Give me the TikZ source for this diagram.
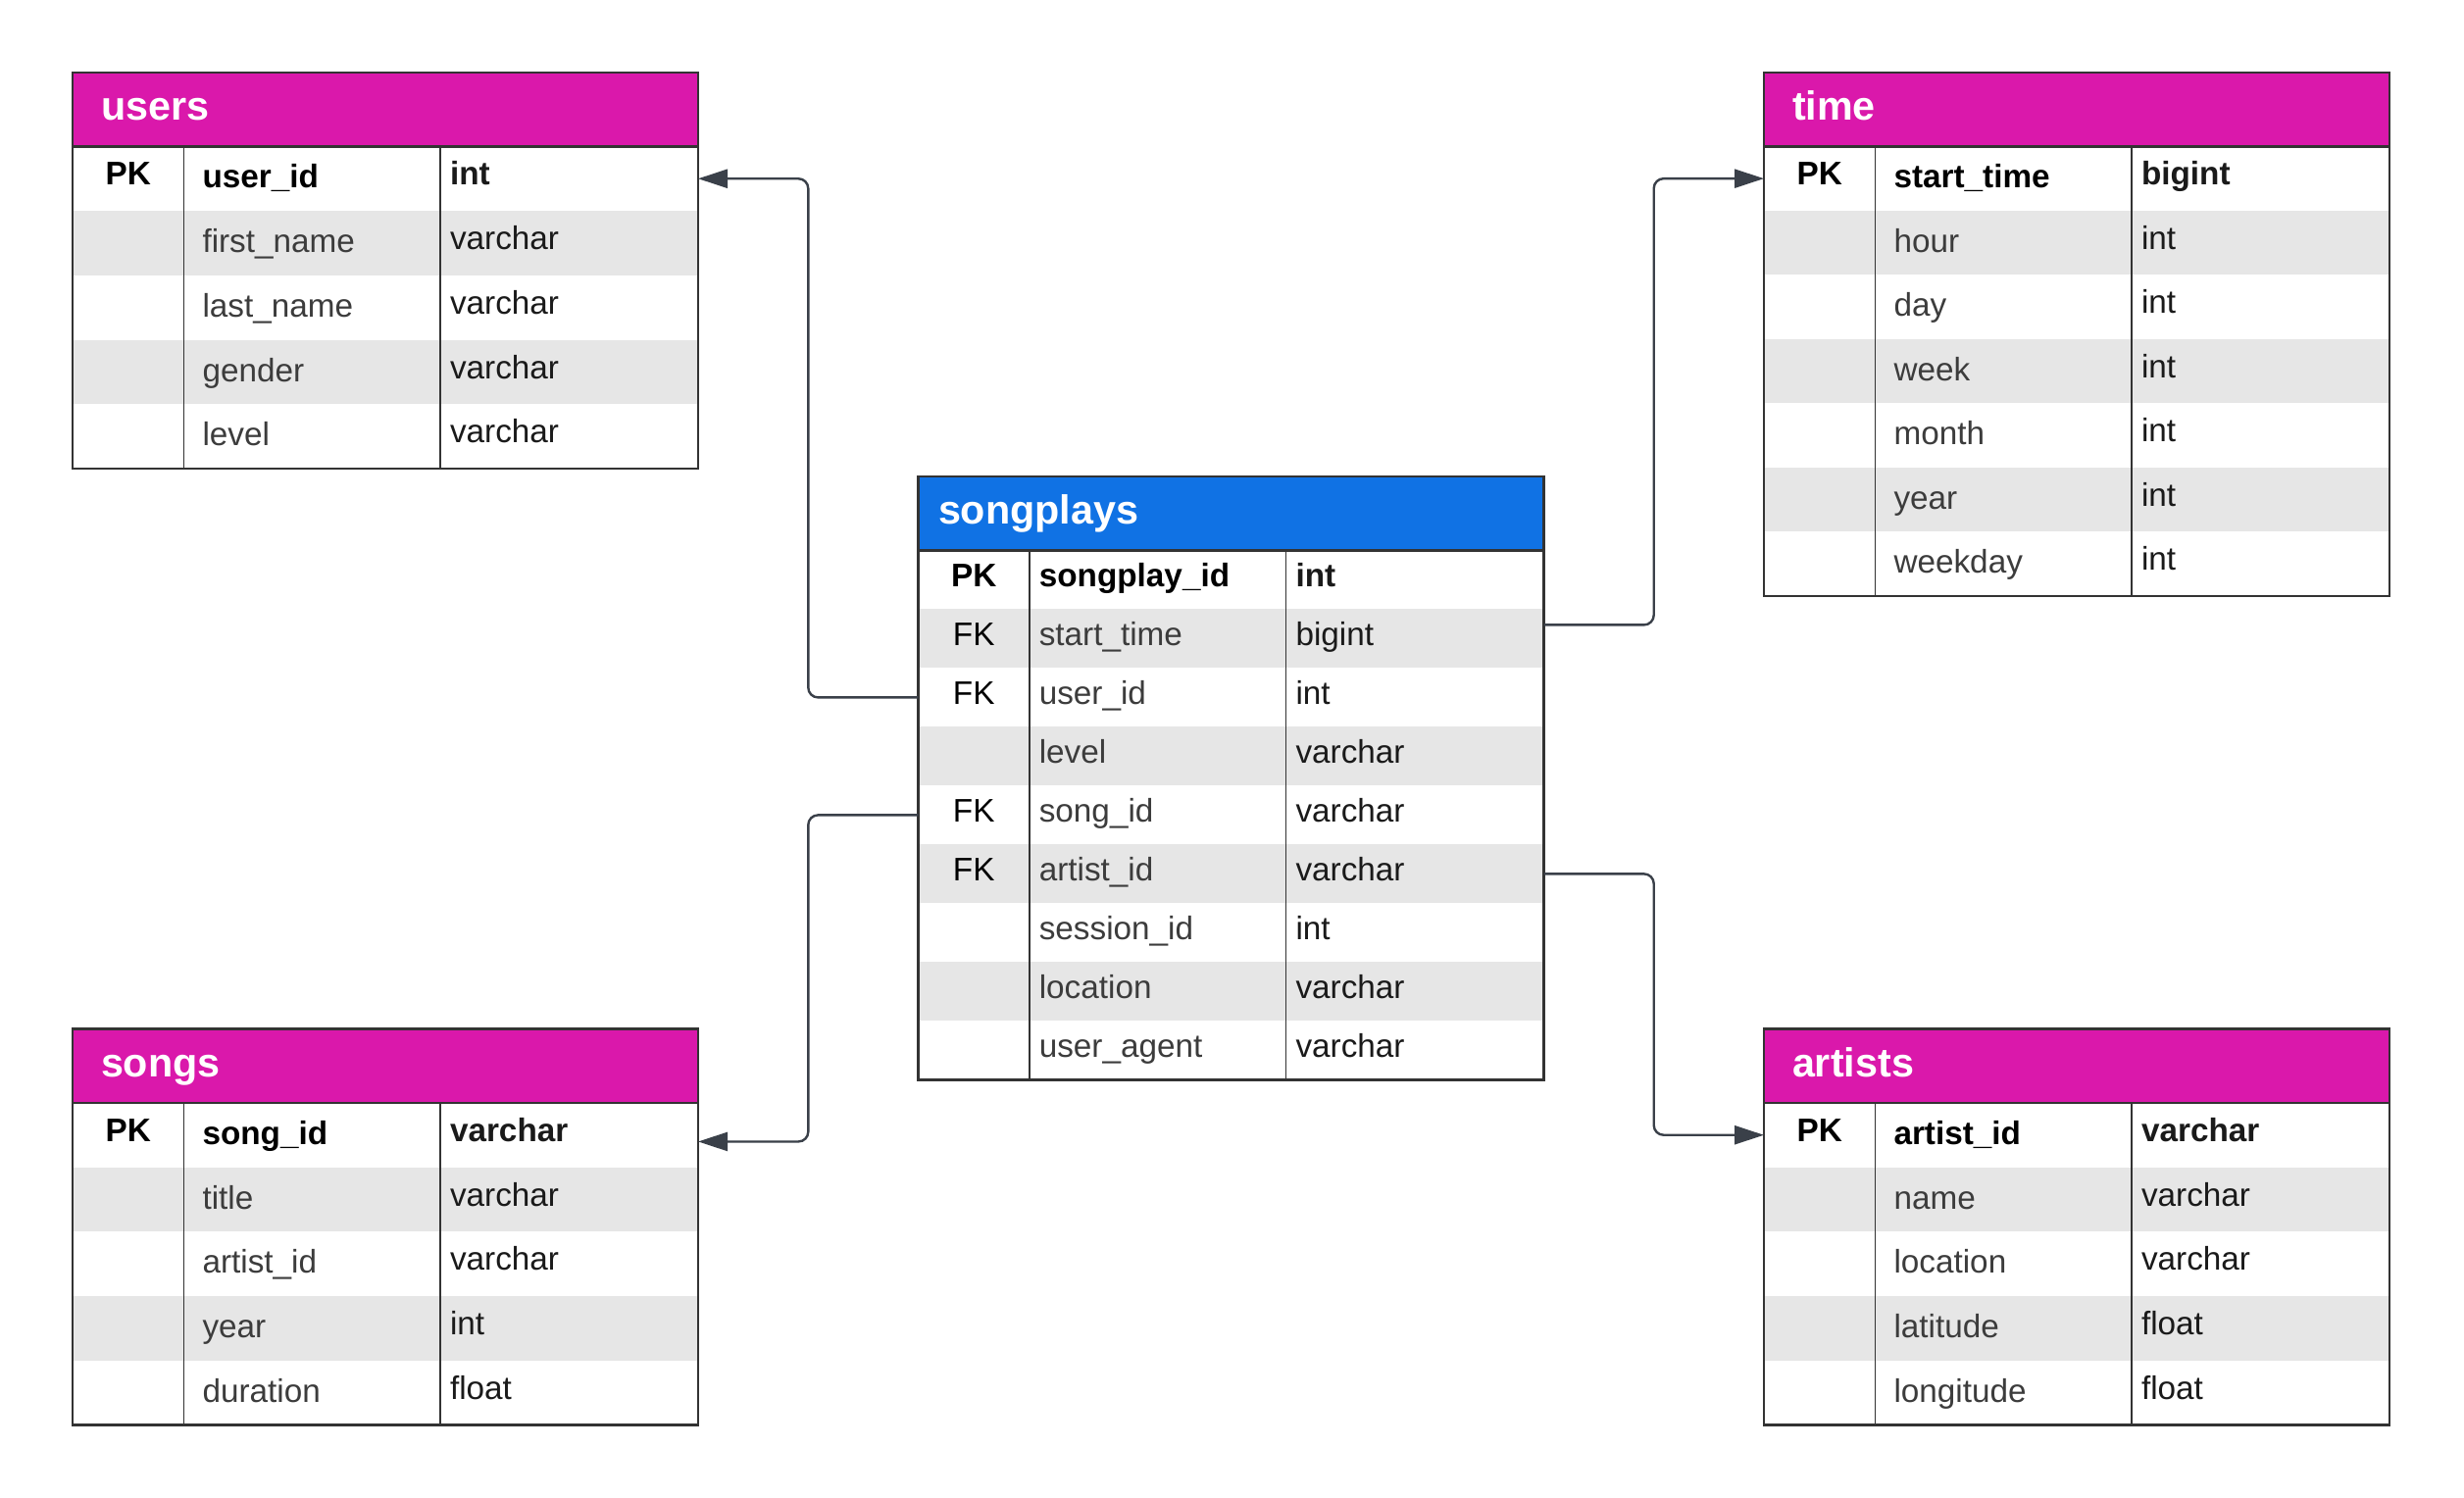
\documentclass[tikz,border=0pt]{standalone}
\usepackage{fontspec}
\setmainfont{Liberation Sans}
\usetikzlibrary{arrows.meta}
\definecolor{hdrmag}{HTML}{DA18AB}
\definecolor{hdrblue}{HTML}{1072E4}
\definecolor{rowgrey}{HTML}{E6E6E6}
\definecolor{bordergrey}{HTML}{333333}
\definecolor{conngrey}{HTML}{3A4049}
\definecolor{namegrey}{HTML}{3C3C3C}
\definecolor{typeblack}{HTML}{1A1A1A}
\newcommand\rowfont{\fontsize{33.3}{40}\selectfont}
\newcommand\headfont{\fontsize{41.3}{50}\selectfont\bfseries}
\newcommand\tabw{638}
\newcommand\tabhh{75.4}
\tikzset{
  rowbox/.style={draw=none, inner sep=0pt, outer sep=0pt, minimum width=638pt},
  headbox/.style={draw=none, inner sep=0pt, outer sep=0pt, minimum width=638pt, minimum height=75.4pt},
  cell/.style={inner sep=0pt, outer sep=0pt},
  divline/.style={draw=bordergrey, line width=1.6pt},
  tabline/.style={draw=bordergrey, line width=2.6pt},
  conn/.style={draw=conngrey, line width=2.4pt, rounded corners=10pt,
    -{Triangle[length=30pt, width=19pt]}},
}
% #1 name, #2 x0, #3 ytop, #4 title, #5 colour, #6 rows, #7 number of rows
\newcommand{\ertable}[7]{%
  \foreach \k/\n/\t [count=\i] in {#6} {%
    \pgfmathsetmacro\ya{#3+\tabhh+(\i-1)*\tabrowh}%
    \ifodd\i\relax \def\rowfill{white}\else \def\rowfill{rowgrey}\fi
    \node[rowbox, fill=\rowfill, minimum height=\tabrowh pt, anchor=north west] (#1-r\i) at (#2,\ya) {};
    \draw[divline] ({#2+113.5},\ya) -- ++(0,\tabrowh);
    \draw[divline] ({#2+375},\ya) -- ++(0,\tabrowh);
    \ifnum\i=1 \def\cellfont{\rowfont\bfseries}\def\namecol{black}\else \def\cellfont{\rowfont}\def\namecol{namegrey}\fi
    \node[cell, font=\cellfont, text=black, anchor=base] (#1-k\i) at ({#2+56.75},{\ya+\tabkb}) {\k};
    \node[cell, font=\cellfont, text=\namecol, anchor=base west] (#1-n\i) at ({#2+113.5+\tabnp},{\ya+\tabnb}) {\n};
    \node[cell, font=\cellfont, text=typeblack, anchor=base west] (#1-t\i) at ({#2+385},{\ya+\tabkb}) {\t};
  }
  \pgfmathsetmacro\yhb{#3+\tabhh}%
  \pgfmathsetmacro\ybot{#3+\tabhh+#7*\tabrowh}%
  \node[headbox, fill=#5, anchor=north west] (#1-head) at (#2,#3) {};
  \node[cell, font=\headfont, text=white, anchor=base west] (#1-title) at ({#2+\tabtp},{#3+48.5}) {#4};
  \draw[tabline] (#2,\yhb) -- ++(\tabw,0);
  \draw[tabline] (#2,#3) rectangle ({#2+\tabw},\ybot);
}
\begin{document}
\begin{tikzpicture}[x=1pt, y=-1pt]
\fill[white] (0,0) rectangle (2513,1528);
\useasboundingbox (0,0) rectangle (2513,1528);

% magenta tables settings
\def\tabrowh{65.7}\def\tabnp{19}\def\tabnb{42.5}\def\tabkb{39.5}\def\tabtp{29}
\ertable{users}{74}{74}{users}{hdrmag}{PK/user\_id/int, /first\_name/varchar, /last\_name/varchar, /gender/varchar, /level/varchar}{5}
\ertable{songs}{74}{1049.5}{songs}{hdrmag}{PK/song\_id/varchar, /title/varchar, /artist\_id/varchar, /year/int, /duration/float}{5}
\ertable{artists}{1799}{1049.5}{artists}{hdrmag}{PK/artist\_id/varchar, /name/varchar, /location/varchar, /latitude/float, /longitude/float}{5}
\def\tabrowh{65.5}
\ertable{time}{1799}{74}{time}{hdrmag}{PK/start\_time/bigint, /hour/int, /day/int, /week/int, /month/int, /year/int, /weekday/int}{7}

% songplays
\def\tabrowh{60}\def\tabnp{9.8}\def\tabnb{37.5}\def\tabkb{37.5}\def\tabtp{20.5}
\ertable{sp}{936.5}{486}{songplays}{hdrblue}{PK/songplay\_id/int, FK/start\_time/bigint, FK/user\_id/int, /level/varchar, FK/song\_id/varchar, FK/artist\_id/varchar, /session\_id/int, /location/varchar, /user\_agent/varchar}{9}

% connectors
\coordinate (busL) at (824.3,0);
\coordinate (busR) at (1686.7,0);
\coordinate (sp-st) at ([yshift=14pt]sp-r2.east);
\coordinate (songs-in) at ([yshift=-6.7pt]songs-r1.east);
\draw[conn] (sp-r3.west) -- (sp-r3.west -| busL) -- (users-r1.east -| busL) -- (users-r1.east);
\draw[conn] (sp-st) -- (sp-st -| busR) -- (time-r1.west -| busR) -- (time-r1.west);
\draw[conn] (sp-r5.west) -- (sp-r5.west -| busL) -- (songs-in -| busL) -- (songs-in);
\draw[conn] (sp-r6.east) -- (sp-r6.east -| busR) -- (artists-r1.west -| busR) -- (artists-r1.west);
\end{tikzpicture}
\end{document}
